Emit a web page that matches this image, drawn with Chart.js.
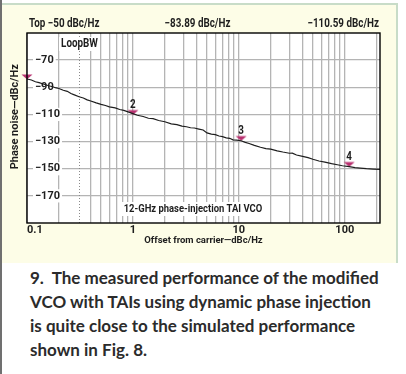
<!DOCTYPE html>
<html>
<head>
<meta charset="utf-8">
<script src="https://cdn.jsdelivr.net/npm/chart.js@4.4.1/dist/chart.umd.min.js"></script>
<style>
  html, body { margin: 0; padding: 0; background: #fff; }
  body { width: 406px; height: 374px; position: relative; overflow: hidden; }
  .rule { position: absolute; left: 0; top: 0; width: 2px; height: 374px; background: #707070; }
  .panel { position: absolute; left: 2px; top: 3px; width: 394px; height: 258px; background: #fdfde7;
           border-top: 2px solid #c8dcc8; border-right: 2px solid #c8dcc8; }
  #chart-box { position: absolute; left: 0; top: 0; width: 406px; height: 263px; }
  .caption { position: absolute; left: 30px; top: 266px; width: 376px; font-family: Lato, 'Open Sans', sans-serif;
             font-weight: 700; font-size: 17px; line-height: 24px; color: #2b2b2b; white-space: nowrap; }
</style>
</head>
<body>
<div class="rule"></div>
<div class="panel"></div>
<div id="chart-box"><canvas id="myChart" width="406" height="263"></canvas></div>
<div class="caption">9.&nbsp; The measured performance of the modified<br>VCO with TAIs using dynamic phase injection<br>is quite close to the simulated performance<br>shown in Fig. 8.</div>
<script>
// offset from carrier (MHz) and measured phase noise (dBc/Hz)
const offsets = [0.1, 0.11, 0.12, 0.13, 0.145, 0.16, 0.175, 0.185, 0.2, 0.22, 0.24, 0.26, 0.28, 0.31, 0.34, 0.37,
  0.4, 0.45, 0.5, 0.55, 0.6, 0.68, 0.75, 0.82, 0.9, 1.0, 1.1, 1.25, 1.4, 1.55, 1.75, 2.0, 2.3, 2.6, 2.9, 3.2,
  3.5, 3.8, 4.2, 4.6, 5.0, 5.5, 6.0, 6.5, 7.0, 7.6, 8.2, 8.8, 9.5, 10.5, 11.5, 12.5, 14, 16, 18, 20, 23, 26,
  30, 32, 35, 40, 45, 50, 57, 65, 75, 85, 95, 110, 125, 140, 160, 185, 215];
const phaseNoise = [-83.9, -84.6, -85.9, -86.6, -87.8, -88.9, -89.6, -90.3, -90.9, -92.2, -93.0, -94.6, -95.6, -97.0, -97.9, -99.3,
  -100.1, -101.5, -102.6, -103.4, -104.4, -105.2, -106.4, -107.0, -108.1, -109.4, -110.6, -111.5, -112.8, -113.1, -114.5, -115.4, -116.9, -117.5, -118.6, -119.1,
  -119.8, -120.0, -120.8, -121.5, -123.6, -124.5, -124.9, -125.9, -126.4, -127.3, -127.6, -128.7, -129.0, -129.4, -130.6, -131.4, -132.8, -134.2, -135.2, -135.6, -136.8, -137.7,
  -138.6, -138.5, -139.9, -140.9, -141.8, -143.0, -144.3, -145.2, -146.3, -147.1, -147.8, -148.4, -149.2, -149.6, -150.0, -150.3, -150.5];

// markers
const markerOffsets = [0.1, 1, 10.5, 110];
const markerLevels = [-83.9, -110.1, -129.3, -148.4];
const markerLabels = ['', '2', '3', '4'];

// axes
const xGridValues = [0.1, 0.2, 0.4, 0.5, 0.6, 0.7, 0.8, 0.9, 1, 2, 3, 4, 5, 6, 7, 8, 9,
  10, 20, 30, 40, 50, 60, 70, 80, 90, 100, 200];
const xTickValues = [0.1, 1, 10, 100];
const xTickLabels = ['0.1', '1', '10', '100'];
const yTickValues = [-70, -90, -110, -130, -150, -170];

const headerTexts = ['Top \u221250 dBc/Hz', '\u221283.89 dBc/Hz', '\u2212110.59 dBc/Hz'];
const loopBw = 0.31;
const innerTitle = '12-GHz phase-injection TAI VCO';

const face = "Roboto, 'Liberation Sans', sans-serif";
const ink = '#1e1e1e';
const gridGrey = '#b4b4b4';
const markerColor = '#b8306f';
const squeeze = 0.82; // the original uses a condensed face

// downward triangle, tip at the centre of the image
const tri = document.createElement('canvas');
tri.width = 12; tri.height = 12;
const tctx = tri.getContext('2d');
tctx.fillStyle = markerColor;
tctx.beginPath();
tctx.moveTo(0.5, 1.5);
tctx.lineTo(11.5, 1.5);
tctx.lineTo(6, 6.2);
tctx.closePath();
tctx.fill();

// narrow text, with optional white box behind it
function narrowText(ctx, text, x, y, align, boxed) {
  const w = ctx.measureText(text).width * squeeze;
  let left = x;
  if (align === 'center') left = x - w / 2;
  if (align === 'right') left = x - w;
  if (boxed) {
    ctx.fillStyle = '#fff';
    ctx.fillRect(left - 2, y - 7, w + 4, 14);
  }
  ctx.save();
  ctx.fillStyle = ink;
  ctx.textAlign = 'left';
  ctx.textBaseline = 'middle';
  ctx.translate(left, y);
  ctx.scale(squeeze, 1);
  ctx.fillText(text, 0, 0);
  ctx.restore();
}

const decor = {
  id: 'decor',
  beforeDraw(chart) {
    const { ctx, chartArea: a } = chart;
    ctx.save();
    ctx.fillStyle = '#fff';
    ctx.fillRect(a.left, a.top, a.right - a.left, a.bottom - a.top);
    ctx.restore();
  },
  beforeDatasetsDraw(chart) {
    const { ctx, chartArea: a, scales: { x } } = chart;
    const lx = Math.round(x.getPixelForValue(loopBw)) + 0.5;
    ctx.save();
    ctx.strokeStyle = '#8a8a8a';
    ctx.lineWidth = 1;
    ctx.setLineDash([1, 2]);
    ctx.beginPath();
    ctx.moveTo(lx, a.top);
    ctx.lineTo(lx, a.bottom);
    ctx.stroke();
    ctx.setLineDash([]);
    ctx.font = 'bold 12px ' + face;
    narrowText(ctx, 'LoopBW', lx, a.top + 11, 'center', true);
    ctx.font = 'bold 11.5px ' + face;
    narrowText(ctx, innerTitle, a.left + (a.right - a.left) * 0.47, a.bottom - 14, 'center', true);
    ctx.restore();
  },
  afterDatasetsDraw(chart) {
    const { ctx, chartArea: a, scales: { x, y } } = chart;
    ctx.save();
    ctx.strokeStyle = '#000';
    ctx.lineWidth = 1.4;
    ctx.strokeRect(a.left, a.top, a.right - a.left, a.bottom - a.top);
    ctx.font = 'bold 12px ' + face;
    markerLabels.forEach((t, i) => {
      if (!t) return;
      narrowText(ctx, t, x.getPixelForValue(markerOffsets[i]), y.getPixelForValue(markerLevels[i]) - 10, 'center', false);
    });
    const hy = a.top - 9;
    narrowText(ctx, headerTexts[0], a.left + 2, hy, 'left', false);
    narrowText(ctx, headerTexts[1], a.left + (a.right - a.left) * 0.483, hy, 'center', false);
    narrowText(ctx, headerTexts[2], a.right - 1, hy, 'right', false);
    ctx.restore();
  }
};

const ctx = document.getElementById('myChart').getContext('2d');
const myChart = new Chart(ctx, {
  type: 'line',
  data: {
    datasets: [{
      data: offsets.map((f, i) => ({ x: f, y: phaseNoise[i] })),
      borderColor: ink,
      borderWidth: 1.2,
      pointRadius: 0,
      tension: 0
    }, {
      data: markerOffsets.map((f, i) => ({ x: f, y: markerLevels[i] })),
      showLine: false,
      pointStyle: tri,
      pointRadius: 6,
      clip: false
    }]
  },
  options: {
    responsive: false,
    animation: false,
    layout: { padding: { top: 33, right: 26, bottom: 0, left: 0 } },
    plugins: { legend: { display: false }, tooltip: { enabled: false } },
    scales: {
      x: {
        type: 'logarithmic',
        min: 0.1,
        max: 215,
        afterBuildTicks: (scale) => { scale.ticks = xGridValues.map(v => ({ value: v })); },
        afterFit: (scale) => { scale.height = 40; },
        grid: { color: gridGrey, lineWidth: 1.3, drawTicks: false },
        border: { display: false },
        ticks: {
          autoSkip: false, maxRotation: 0, minRotation: 0, align: 'inner', padding: 1,
          color: ink, font: { family: face, size: 11, weight: 'bold' },
          callback: (v) => { const i = xTickValues.indexOf(v); return i >= 0 ? xTickLabels[i] : ''; }
        },
        title: {
          display: true, text: 'Offset from carrier\u2014dBc/Hz', color: ink,
          font: { family: face, size: 9.5, weight: 'bold' }, padding: { top: 0, bottom: 17 }
        }
      },
      y: {
        min: -190,
        max: -50,
        afterBuildTicks: (scale) => { scale.ticks = yTickValues.map(v => ({ value: v })); },
        afterFit: (scale) => { scale.width = 27; },
        grid: { color: gridGrey, lineWidth: 1.3, drawTicks: false },
        border: { display: false },
        ticks: {
          mirror: true, padding: 8, color: ink,
          font: { family: face, size: 11, weight: 'bold' },
          showLabelBackdrop: true, backdropColor: '#fff', backdropPadding: { left: 2, right: 2, top: 0, bottom: 0 },
          callback: (v) => String(v).replace('-', '\u2212')
        },
        title: {
          display: true, text: '\u2002\u2002\u2002\u2002Phase noise\u2014dBc/Hz', color: ink,
          font: { family: face, size: 11, weight: 'bold' }, padding: { top: 9, bottom: 0 }
        }
      }
    }
  },
  plugins: [decor]
});
</script>
</body>
</html>
